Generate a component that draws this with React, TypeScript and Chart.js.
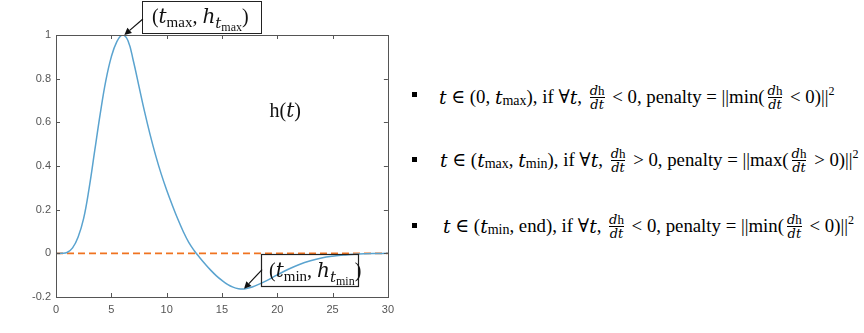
import React, { useEffect, useRef } from 'react';
import { Chart, registerables } from 'chart.js';
Chart.register(...registerables);

const tValues = [0, 0.5, 1, 1.5, 2, 2.5, 3, 3.5, 4, 4.5, 5, 5.5, 6, 6.5, 7, 7.5, 8, 8.5, 9, 9.5, 10, 10.5, 11, 11.5, 12, 12.5, 13, 13.5, 14, 14.5, 15, 15.5, 16, 16.5, 17, 17.5, 18, 19, 20, 21, 22, 23, 24, 25, 26, 27, 28, 29, 30];
const hValues = [0, 0, 0.004, 0.025, 0.075, 0.16, 0.3, 0.47, 0.64, 0.79, 0.9, 0.97, 1.0, 0.975, 0.88, 0.765, 0.65, 0.545, 0.45, 0.365, 0.29, 0.222, 0.158, 0.1, 0.05, 0.012, -0.02, -0.05, -0.078, -0.103, -0.124, -0.142, -0.155, -0.162, -0.163, -0.158, -0.149, -0.126, -0.099, -0.073, -0.051, -0.034, -0.021, -0.013, -0.008, -0.004, -0.002, -0.001, 0];
const zeroLineT = [0, 30];
const zeroLineH = [0, 0];
const xTickValues = [0, 5, 10, 15, 20, 25, 30];
const yTickValues = [-0.2, 0, 0.2, 0.4, 0.6, 0.8, 1];
const peakPoint = { t: 6, h: 1 };
const troughPoint = { t: 17, h: -0.162 };
const curveLabelPos = { t: 19.3, h: 0.656 };

const SERIF = '"Liberation Serif", "DejaVu Serif", serif';
const MATH = '"DejaVu Serif", "Liberation Serif", serif';

type Seg = { text: string; italic?: boolean; size: number; dy?: number; math?: boolean };

function drawSegs(ctx: CanvasRenderingContext2D, segs: Seg[], x: number, y: number) {
  let cx = x;
  for (const s of segs) {
    ctx.font = `${s.italic ? 'italic ' : ''}${s.size}px ${s.math ? MATH : SERIF}`;
    ctx.fillText(s.text, cx, y + (s.dy || 0));
    cx += ctx.measureText(s.text).width;
  }
  return cx;
}

function drawArrow(ctx: CanvasRenderingContext2D, x1: number, y1: number, x2: number, y2: number) {
  const ang = Math.atan2(y2 - y1, x2 - x1);
  const hl = 7, hw = 3.5;
  const bx = x2 - hl * Math.cos(ang), by = y2 - hl * Math.sin(ang);
  ctx.beginPath();
  ctx.moveTo(x1, y1);
  ctx.lineTo(bx, by);
  ctx.strokeStyle = '#111';
  ctx.lineWidth = 1.2;
  ctx.stroke();
  ctx.beginPath();
  ctx.moveTo(x2, y2);
  ctx.lineTo(bx + hw * Math.sin(ang), by - hw * Math.cos(ang));
  ctx.lineTo(bx - hw * Math.sin(ang), by + hw * Math.cos(ang));
  ctx.closePath();
  ctx.fillStyle = '#111';
  ctx.fill();
}

const annoSegs = (sub: string): Seg[] => [
  { text: '(', size: 20 },
  { text: 't', size: 20, italic: true, math: true },
  { text: sub, size: 15, dy: 4 },
  { text: ', ', size: 20 },
  { text: 'h', size: 20, italic: true, math: true },
  { text: 't', size: 15, italic: true, math: true, dy: 5 },
  { text: sub, size: 12, dy: 8 },
  { text: ')', size: 20 },
];

const matlabPlugin = {
  id: 'matlabDecor',
  afterDraw(chart: any) {
    const { ctx, chartArea, scales } = chart;
    const { left, right, top, bottom } = chartArea;
    const xs = scales.x, ys = scales.y;
    ctx.save();
    ctx.strokeStyle = '#555';
    ctx.lineWidth = 1;
    ctx.strokeRect(Math.round(left) + 0.5, Math.round(top) + 0.5, Math.round(right - left), Math.round(bottom - top));
    ctx.beginPath();
    for (const v of xTickValues) {
      const px = Math.round(xs.getPixelForValue(v)) + 0.5;
      ctx.moveTo(px, bottom); ctx.lineTo(px, bottom - 4);
      ctx.moveTo(px, top); ctx.lineTo(px, top + 4);
    }
    for (const v of yTickValues) {
      const py = Math.round(ys.getPixelForValue(v)) + 0.5;
      ctx.moveTo(left, py); ctx.lineTo(left + 4, py);
      ctx.moveTo(right, py); ctx.lineTo(right - 4, py);
    }
    ctx.stroke();

    ctx.textBaseline = 'alphabetic';
    ctx.textAlign = 'left';

    const lx = xs.getPixelForValue(curveLabelPos.t);
    const ly = ys.getPixelForValue(curveLabelPos.h);
    ctx.fillStyle = '#111';
    drawSegs(ctx, [
      { text: 'h(', size: 20 },
      { text: 't', size: 20, italic: true, math: true },
      { text: ')', size: 20 },
    ], lx, ly + 7);

    const px = xs.getPixelForValue(peakPoint.t);
    const py = ys.getPixelForValue(peakPoint.h);
    const b1x = px + 19.5, b1y = py - 34, b1w = 119, b1h = 32;
    ctx.fillStyle = '#fff';
    ctx.fillRect(b1x, b1y, b1w, b1h);
    ctx.strokeStyle = '#222';
    ctx.lineWidth = 1;
    ctx.strokeRect(Math.round(b1x) + 0.5, Math.round(b1y) + 0.5, b1w, b1h);
    ctx.fillStyle = '#111';
    drawSegs(ctx, annoSegs('max'), b1x + 10, b1y + 22);
    drawArrow(ctx, b1x + 1, b1y + 18, px + 2, py);

    const tx = xs.getPixelForValue(troughPoint.t);
    const ty = ys.getPixelForValue(troughPoint.h);
    const b2x = tx + 17, b2y = ty - 35, b2w = 97, b2h = 32;
    ctx.strokeStyle = '#222';
    ctx.strokeRect(Math.round(b2x) + 0.5, Math.round(b2y) + 0.5, b2w, b2h);
    ctx.fillStyle = '#111';
    drawSegs(ctx, annoSegs('min'), b2x + 8, b2y + 23);
    drawArrow(ctx, b2x + 1, b2y + 16, tx, ty);

    ctx.restore();
  },
};

const MI = ({ children }: { children: any }) => (
  <span style={{ fontFamily: MATH, fontStyle: 'italic' }}>{children}</span>
);

const Frac = () => (
  <span
    style={{
      display: 'inline-flex',
      flexDirection: 'column',
      alignItems: 'center',
      fontSize: 13,
      lineHeight: '13px',
      verticalAlign: 'middle',
      margin: '0 3px',
    }}
  >
    <span><MI>d</MI>h</span>
    <span style={{ borderTop: '1px solid #000', alignSelf: 'stretch', textAlign: 'center' }}><MI>dt</MI></span>
  </span>
);

const Sub = ({ children }: { children: any }) => (
  <span style={{ fontSize: 14, position: 'relative', top: 4 }}>{children}</span>
);

const Sup = () => (
  <span style={{ fontSize: 12, position: 'relative', top: -6 }}>2</span>
);

const Bullet = ({ top }: { top: number }) => (
  <div style={{ position: 'absolute', left: 412, top, width: 5, height: 5, background: '#000' }} />
);

const lineStyle = (left: number, top: number): React.CSSProperties => ({
  position: 'absolute',
  left,
  top,
  height: 30,
  display: 'flex',
  alignItems: 'center',
  whiteSpace: 'pre',
  fontFamily: SERIF,
  fontSize: 18.8,
  color: '#000',
});

export default function App() {
  const canvasRef = useRef<HTMLCanvasElement | null>(null);

  useEffect(() => {
    if (!canvasRef.current) return;
    const chart = new Chart(canvasRef.current, {
      type: 'line',
      data: {
        datasets: [
          {
            label: 'h(t)',
            data: tValues.map((t, i) => ({ x: t, y: hValues[i] })),
            borderColor: '#5aa3cf',
            borderWidth: 1.5,
            pointRadius: 0,
            tension: 0.4,
            fill: false,
          },
          {
            label: 'zero',
            data: zeroLineT.map((t, i) => ({ x: t, y: zeroLineH[i] })),
            borderColor: '#f07320',
            borderWidth: 1.8,
            borderDash: [7, 4],
            pointRadius: 0,
            fill: false,
          },
        ],
      },
      options: {
        animation: false,
        responsive: true,
        maintainAspectRatio: false,
        layout: { padding: { top: 35, right: 12, left: 0, bottom: 0 } },
        plugins: { legend: { display: false }, tooltip: { enabled: false } },
        scales: {
          x: {
            type: 'linear',
            min: 0,
            max: 30,
            afterFit: (s: any) => { s.height = 36; },
            afterBuildTicks: (s: any) => { s.ticks = xTickValues.map((v) => ({ value: v })); },
            grid: { display: false, drawTicks: false },
            border: { display: false },
            ticks: {
              padding: 6,
              color: '#555',
              font: { family: '"Liberation Sans", Arial, sans-serif', size: 11 },
              maxRotation: 0,
            },
          },
          y: {
            type: 'linear',
            min: -0.2,
            max: 1,
            afterFit: (s: any) => { s.width = 56; },
            afterBuildTicks: (s: any) => { s.ticks = yTickValues.map((v) => ({ value: v })); },
            grid: { display: false, drawTicks: false },
            border: { display: false },
            ticks: {
              padding: 5,
              color: '#555',
              font: { family: '"Liberation Sans", Arial, sans-serif', size: 11 },
              callback: (v: any) => String(Number(Number(v).toFixed(1))),
            },
          },
        },
      },
      plugins: [matlabPlugin],
    } as any);
    return () => chart.destroy();
  }, []);

  return (
    <div style={{ position: 'absolute', left: 0, top: 0, width: 864, height: 333, background: '#fff', overflow: 'hidden' }}>
      <div style={{ position: 'absolute', left: 0, top: 0, width: 400, height: 333 }}>
        <canvas ref={canvasRef} />
      </div>
      <Bullet top={92} />
      <Bullet top={157} />
      <Bullet top={223} />
      <div style={lineStyle(439, 82)}>
        <MI>t</MI> ∈ (0, <MI>t</MI><Sub>max</Sub>), if ∀<MI>t</MI>, <Frac /> &lt; 0, penalty = ||min(<Frac /> &lt; 0)||<Sup />
      </div>
      <div style={lineStyle(440, 145)}>
        <MI>t</MI> ∈ (<MI>t</MI><Sub>max</Sub>, <MI>t</MI><Sub>min</Sub>), if ∀<MI>t</MI>, <Frac /> &gt; 0, penalty = ||max(<Frac /> &gt; 0)||<Sup />
      </div>
      <div style={lineStyle(443, 211)}>
        <MI>t</MI> ∈ (<MI>t</MI><Sub>min</Sub>, end), if ∀<MI>t</MI>, <Frac /> &lt; 0, penalty = ||min(<Frac /> &lt; 0)||<Sup />
      </div>
    </div>
  );
}
